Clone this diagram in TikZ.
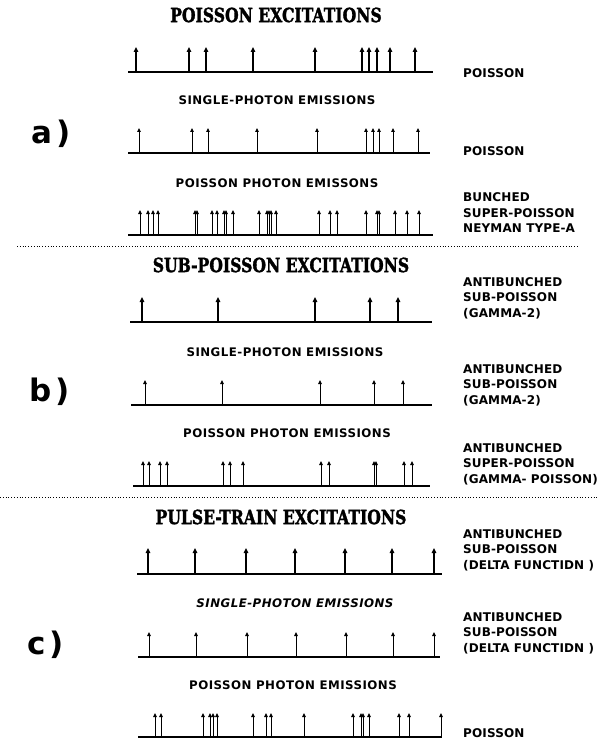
\documentclass[tikz,border=0pt]{standalone}
\usepackage{fontspec}
\usetikzlibrary{arrows.meta}
\newfontfamily\headfont[FakeStretch=0.8,FakeBold=1.6]{DejaVu Serif}
\newfontfamily\rowfont[LetterSpace=4]{DejaVu Sans}
\newfontfamily\notefont[LetterSpace=1]{DejaVu Sans}
\newfontfamily\tagfont[LetterSpace=14]{DejaVu Sans}

\begin{document}
\begin{tikzpicture}[x=1pt,y=-1pt,
    head/.style={font=\headfont\bfseries\fontsize{19.5}{20}\selectfont,inner sep=0},
    sub/.style={font=\rowfont\bfseries\fontsize{11.8}{12}\selectfont,inner sep=0},
    note/.style={font=\notefont\bfseries\fontsize{12}{15.5}\selectfont,anchor=west,align=left,inner sep=0},
    tag/.style={font=\tagfont\bfseries\fontsize{31}{31}\selectfont,anchor=west,inner sep=0},
    axis/.style={line width=1.3pt},
    thickaxis/.style={line width=2pt},
    stem/.style={-{Triangle[length=4pt,width=3.5pt]},line width=1pt},
    thickstem/.style={-{Triangle[length=5pt,width=4.5pt]},line width=2pt},
    sep/.style={dotted,line width=0.8pt}]
\useasboundingbox (0,0) rectangle (598,741);

% a) poisson excitations
\node[head] (ta) at (276,15) {POISSON EXCITATIONS};
\draw[thickaxis] (128,72) -- (433,72);
\foreach \x in {136,189,206,253,315,362,369,377,390,415}
    \draw[thickstem] (\x,72) -- (\x,47);
\node[note] (na1) at (463,73) {POISSON};

\node[sub] (sa1) at (277,100) {SINGLE-PHOTON EMISSIONS};
\draw[axis] (128,153) -- (430,153);
\foreach \x in {139,192,208,257,317,366,373,379,393,418}
    \draw[stem] (\x,153) -- (\x,128);
\node[note] (na2) at (463,151) {POISSON};
\node[tag] (la) at (31,134) {a)};

\node[sub] (sa2) at (277,183) {POISSON PHOTON EMISSONS};
\draw[axis] (128,235) -- (433,235);
\foreach \x in {140,148,153,158,195,197,212,217,224,226,233,259,267,269,271,276,
                319,330,337,366,377,379,395,407,419}
    \draw[stem] (\x,235) -- (\x,210);
\node[note] (na3) at (463,213) {BUNCHED\\SUPER-POISSON\\NEYMAN TYPE-A};

\draw[sep] (17,246) -- (578,246);

% b) sub-poisson excitations
\node[head] (tb) at (281,265) {SUB-POISSON EXCITATIONS};
\draw[thickaxis] (130,322) -- (432,322);
\foreach \x in {142,218,315,370,398}
    \draw[thickstem] (\x,322) -- (\x,297);
\node[note] (nb1) at (463,298) {ANTIBUNCHED\\SUB-POISSON\\(GAMMA-2)};

\node[sub] (sb1) at (285,352) {SINGLE-PHOTON EMISSIONS};
\draw[axis] (131,405) -- (432,405);
\foreach \x in {145,222,320,374,403}
    \draw[stem] (\x,405) -- (\x,380);
\node[note] (nb2) at (463,385) {ANTIBUNCHED\\SUB-POISSON\\(GAMMA-2)};
\node[tag] (lb) at (29,392) {b)};

\node[sub] (sb2) at (287,433) {POISSON PHOTON EMISSIONS};
\draw[axis] (133,486) -- (430,486);
\foreach \x in {143,149,160,167,223,230,243,321,329,374,376,404,412}
    \draw[stem] (\x,486) -- (\x,461);
\node[note] (nb3) at (463,464) {ANTIBUNCHED\\SUPER-POISSON\\(GAMMA- POISSON)};

\draw[sep] (0,497) -- (598,497);

% c) pulse-train excitations
\node[head] (tc) at (281,517) {PULSE-TRAIN EXCITATIONS};
\draw[thickaxis] (137,574) -- (442,574);
\foreach \x in {148,195,246,295,345,392,434}
    \draw[thickstem] (\x,574) -- (\x,548);
\node[note] (nc1) at (463,550) {ANTIBUNCHED\\SUB-POISSON\\(DELTA FUNCTIDN )};

\node[sub] (sc1) at (295,603) {\itshape SINGLE-PHOTON EMISSIONS};
\draw[axis] (138,657) -- (440,657);
\foreach \x in {149,196,247,296,346,393,434}
    \draw[stem] (\x,657) -- (\x,632);
\node[note] (nc2) at (463,633) {ANTIBUNCHED\\SUB-POISSON\\(DELTA FUNCTIDN )};
\node[tag] (lc) at (27,645) {c)};

\node[sub] (sc2) at (293,685) {POISSON PHOTON EMISSIONS};
\draw[axis] (138,737) -- (442,737);
\foreach \x in {155,161,203,210,213,217,253,266,271,304,353,361,363,369,399,409,441}
    \draw[stem] (\x,737) -- (\x,713);
\node[note] (nc3) at (463,733) {POISSON};
\end{tikzpicture}
\end{document}
